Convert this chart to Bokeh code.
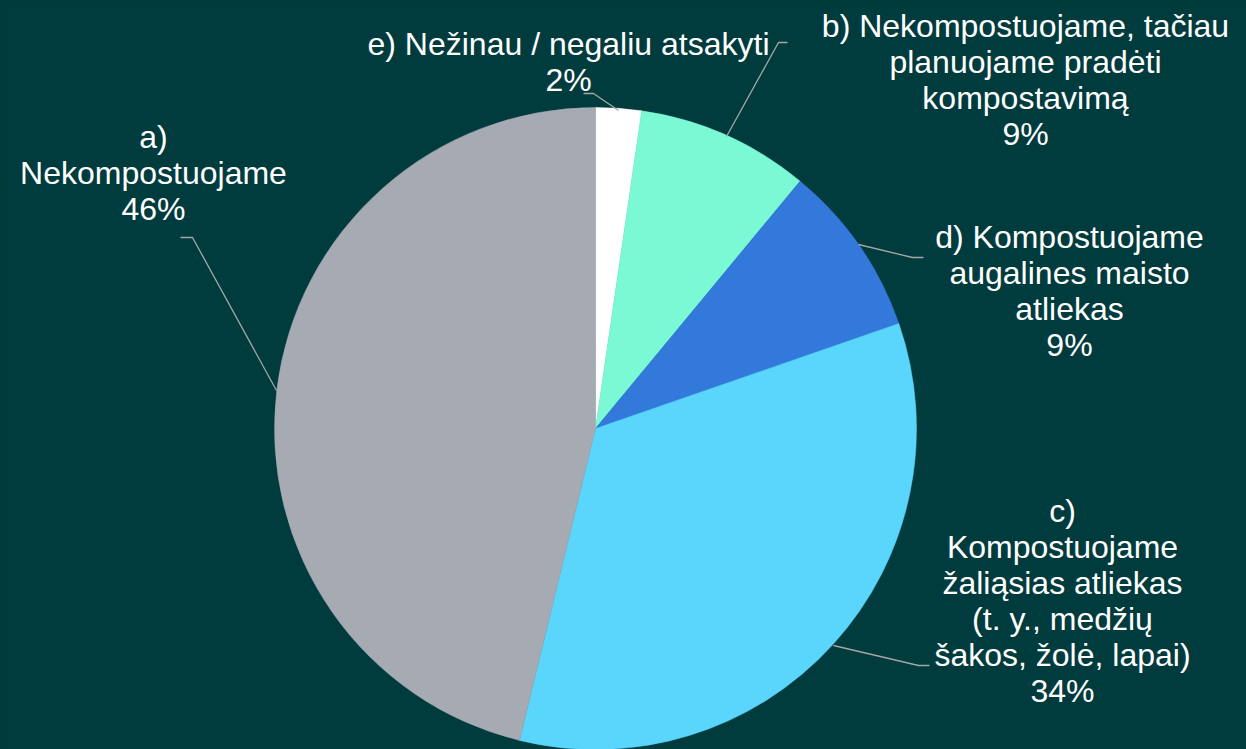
import math
from bokeh.plotting import figure
from bokeh.models import Range1d, ColumnDataSource
from bokeh.core.properties import value
from bokeh.embed import file_html
from bokeh.resources import INLINE

# ---------------- data ----------------
categories = [
    "e) Nežinau / negaliu atsakyti",
    "b) Nekompostuojame, tačiau\nplanuojame pradėti\nkompostavimą",
    "d) Kompostuojame\naugalines maisto\natliekas",
    "c)\nKompostuojame\nžaliąsias atliekas\n(t. y., medžių\nšakos, žolė, lapai)",
    "a)\nNekompostuojame",
]
values = [2.3, 8.7, 8.7, 34.1, 46.2]
pct_labels = ["2%", "9%", "9%", "34%", "46%"]
colors = ["#FFFFFF", "#7BF9D4", "#3378DB", "#5AD5FC", "#A5AAB3"]

BG = "#003B3D"
W, H = 1246, 749


def Y(py):
    return H - py


# layout (page pixel coordinates)
cx, cy, R = 595, 428, 321
label_pos = [(568, 61), (1025, 79), (1069, 290), (1062, 600), (153, 172)]
leaders = [
    [(583, 93), (593, 93), (618, 110)],
    [(787, 42), (778, 42), (726, 136)],
    [(923, 257), (912, 257), (858, 244)],
    [(929, 665), (918, 665), (833, 645)],
    [(180, 237), (192, 237), (276, 390)],
]

total = sum(values)
starts, ends = [], []
cum = 0.0
for v in values:
    starts.append(math.pi / 2 - 2 * math.pi * cum / total)
    cum += v
    ends.append(math.pi / 2 - 2 * math.pi * cum / total)

p = figure(width=W, height=H, x_range=Range1d(0, W), y_range=Range1d(0, H),
           x_axis_type=None, y_axis_type=None, toolbar_location=None,
           output_backend="svg", min_border=0)
p.background_fill_color = BG
p.border_fill_color = BG
p.outline_line_color = None
p.xgrid.visible = False
p.ygrid.visible = False

src = ColumnDataSource(dict(start=starts, end=ends, color=colors))
p.wedge(x=cx, y=Y(cy), radius=R, start_angle="start", end_angle="end",
        direction="clock", fill_color="color", line_color="color", line_width=0.5,
        source=src)

p.multi_line(xs=[[pt[0] for pt in l] for l in leaders],
             ys=[[Y(pt[1]) for pt in l] for l in leaders],
             line_color="#A6A6A6", line_width=1.3)

texts = [c + "\n" + pc for c, pc in zip(categories, pct_labels)]
p.text(x=[lp[0] for lp in label_pos], y=[Y(lp[1]) for lp in label_pos], text=texts,
       text_font=value("Liberation Sans"), text_font_size="32px",
       text_color="#FFFFFF", text_align="center", text_baseline="middle",
       text_line_height=1.0)

template = """{% block postamble %}<style>html, body { background: #003B3D; margin: 0; padding: 0; overflow: hidden; }</style>{% endblock %}"""
open("out.html", "w").write(file_html(p, INLINE, template=template))
